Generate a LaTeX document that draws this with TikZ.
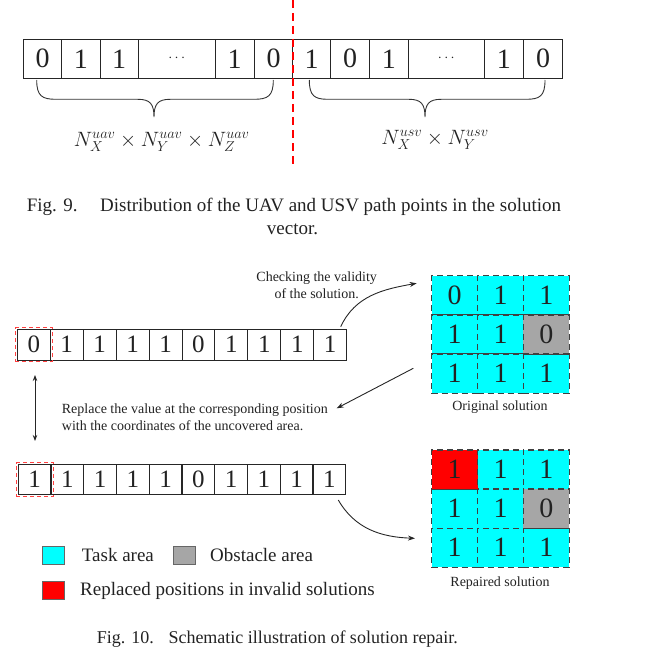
\documentclass[tikz,border=0pt]{standalone}
\usepackage{fontspec}
\setmainfont{Liberation Serif}
\usetikzlibrary{arrows.meta}
\definecolor{txt}{HTML}{222222}
\definecolor{taskc}{HTML}{00FFFF}
\definecolor{obsc}{HTML}{A6A6A6}
\definecolor{gridline}{HTML}{404040}
\begin{document}
\begin{tikzpicture}[x=1pt,y=-1pt,
  cell/.style={draw=black!85, line width=0.9pt, inner sep=0pt, anchor=center,
    minimum height=39pt, font=\fontsize{28}{30}\selectfont, text=txt},
  acell/.style={draw=black!85, line width=0.9pt, inner sep=0pt, anchor=center,
    minimum width=32.94pt, minimum height=30.7pt, font=\fontsize{25}{27}\selectfont, text=txt},
  gcell/.style={draw=gridline, line width=1.3pt, dash pattern=on 6pt off 4pt, inner sep=0pt,
    minimum width=45.87pt, minimum height=39.2pt, fill=taskc, font=\fontsize{28}{30}\selectfont, text=txt},
  redbox/.style={draw=red!75, line width=1pt, dash pattern=on 4pt off 3pt, inner sep=0pt,
    minimum width=37.3pt, minimum height=34pt},
  brace/.style={draw=black!80, line width=0.9pt},
  arr/.style={draw=black!85, line width=0.9pt, -{Stealth[length=7pt,width=5pt]}},
  dbl/.style={draw=black!85, line width=0.9pt, {Stealth[length=6pt,width=4.5pt]}-{Stealth[length=6pt,width=4.5pt]}},
  small/.style={font=\fontsize{14}{16.6}\selectfont, text=txt, inner sep=0pt},
  big/.style={font=\fontsize{19}{23}\selectfont, text=txt, inner sep=0pt},
  leg/.style={draw=black!60, line width=0.8pt, minimum width=22pt, minimum height=18pt, inner sep=0pt}
]
\useasboundingbox (0,0) rectangle (654,666);

% ---------- Fig. 9: solution vector ----------
\foreach \l/\r/\t [count=\i] in {23.3/61.7/0, 61.7/100/1, 100/138.3/1,
    138.3/215/{\fontsize{15}{17}\selectfont$\cdots$}, 215/254.3/1, 254.3/292.7/0,
    292.7/330.7/1, 330.7/369.3/0, 369.3/408.3/1,
    408.3/484.3/{\fontsize{15}{17}\selectfont$\cdots$}, 484.3/523.3/1, 523.3/562.7/0}
  \node[cell, minimum width={(\r-\l)*1pt}] (t\i) at ({(\l+\r)/2},58.8) {\t};

\coordinate (sepTop) at (292.7,0);
\coordinate (sepBot) at (292.7,168);
\draw[red, line width=2pt, dash pattern=on 8pt off 5pt] (sepTop) -- (sepBot);

% braces
\draw[brace] (36.7,80) .. controls (36.7,96) and (42,99.3) .. (56,99.3) -- (138,99.3)
  .. controls (150,99.3) and (154,104) .. (154,117)
  .. controls (154,104) and (158,99.3) .. (170,99.3) -- (254,99.3)
  .. controls (268,99.3) and (273.3,96) .. (273.3,80);
\draw[brace] (309.3,80) .. controls (309.3,96) and (314.6,99.3) .. (328,99.3) -- (409,99.3)
  .. controls (421,99.3) and (425,104) .. (425,117)
  .. controls (425,104) and (429,99.3) .. (441,99.3) -- (526,99.3)
  .. controls (540,99.3) and (545,96) .. (545,80);

\node[text=txt, font=\fontsize{21.5}{24}\selectfont] (lu) at (161.7,142) {$N_X^{uav}\times N_Y^{uav}\times N_Z^{uav}$};
\node[text=txt, font=\fontsize{21.5}{24}\selectfont] (ls) at (435,140) {$N_X^{usv}\times N_Y^{usv}$};

\node[big, anchor=base west] (c9a) at (26.7,211.7) {Fig. 9.};
\node[big, anchor=base west] (c9b) at (100,211.7) {Distribution of the UAV and USV path points in the solution};
\node[big, anchor=base] (c9c) at (292.5,234) {vector.};

% ---------- Fig. 10 ----------
\foreach \t [count=\i from 0] in {0,1,1,1,1,0,1,1,1,1}
  \node[acell] (a\i) at ({17.3+32.94*(\i+0.5)},344.7) {\t};
\node[redbox] (ra) at (a0) {};

\foreach \t [count=\i from 0] in {1,1,1,1,1,0,1,1,1,1}
  \node[acell] (b\i) at ({18.3+32.74*(\i+0.5)},479.5) {\t};
\node[redbox] (rb) at (b0) {};

% original grid
\foreach \t [count=\i from 0] in {0,1,1,1,1,0,1,1,1}{
  \pgfmathtruncatemacro{\c}{mod(\i,3)}
  \pgfmathtruncatemacro{\r}{div(\i,3)}
  \node[gcell] (g\i) at ({431.7+45.87*(\c+0.5)},{275.7+39.2*(\r+0.5)}) {\t};
}
\node[gcell, fill=obsc] at (g5) {0};
\node[small] (lo) at (500,407) {Original solution};

% repaired grid
\foreach \t [count=\i from 0] in {1,1,1,1,1,0,1,1,1}{
  \pgfmathtruncatemacro{\c}{mod(\i,3)}
  \pgfmathtruncatemacro{\r}{div(\i,3)}
  \node[gcell] (h\i) at ({431.7+45.87*(\c+0.5)},{450+39.1*(\r+0.5)}) {\t};
}
\node[gcell, fill=red] at (h0) {1};
\node[gcell, fill=obsc] at (h5) {0};
\node[small] (lr) at (500,583) {Repaired solution};

% texts
\node[small, align=center] (chk) at (316.7,285) {Checking the validity\\of the solution.};
\node[small, align=left, anchor=west] (rep) at (61.7,417.5) {Replace the value at the corresponding position\\with the coordinates of the uncovered area.};

% arrows
\coordinate (p1s) at (340.7,326.7);
\coordinate (p1e) at (416.7,283.3);
\draw[arr] (p1s) to[out=65, in=190] (p1e);
\coordinate (p2s) at (413.3,368.3);
\coordinate (p2e) at (336.7,408.3);
\draw[arr] (p2s) -- (p2e);
\coordinate (p3s) at (338.3,500);
\coordinate (p3e) at (415,538.3);
\draw[arr] (p3s) to[out=-60, in=178] (p3e);
\coordinate (d1) at (35,375);
\coordinate (d2) at (35,441);
\draw[dbl] (d1) -- (d2);

% legend
\node[leg, fill=taskc] (k1) at (53.3,555) {};
\node[big, anchor=west] (k1t) at (81.7,555) {Task area};
\node[leg, fill=obsc] (k2) at (184.2,555) {};
\node[big, anchor=west] (k2t) at (210,555) {Obstacle area};
\node[leg, fill=red] (k3) at (53.3,590.5) {};
\node[big, anchor=west] (k3t) at (80,590.5) {Replaced positions in invalid solutions};

\node[big, font=\fontsize{18}{22}\selectfont, anchor=base west] (c10a) at (96.7,643) {Fig. 10.};
\node[big, font=\fontsize{18}{22}\selectfont, anchor=base west] (c10b) at (168.3,643) {Schematic illustration of solution repair.};
\end{tikzpicture}
\end{document}
